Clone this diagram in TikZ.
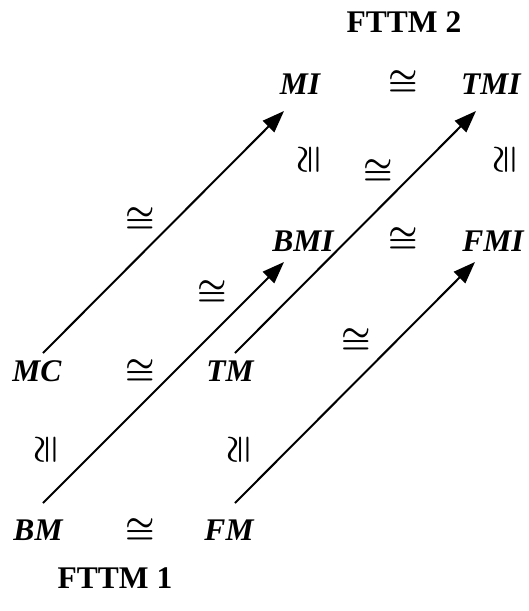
\documentclass[tikz,border=0pt]{standalone}
\usepackage{fontspec}
\setmainfont{Liberation Serif}
\usetikzlibrary{arrows.meta}
\newcommand{\isosym}{\scalebox{3.3}{\boldmath$\cong$}}
\tikzset{
  lbl/.style={inner sep=0pt, font=\fontsize{31.5}{36}\selectfont\bfseries\itshape},
  ttl/.style={inner sep=0pt, font=\fontsize{31.5}{36}\selectfont\bfseries},
  iso/.style={inner sep=0pt},
  visoh/.style={inner sep=0pt, rotate=90},
  arr/.style={line width=2pt, -{Triangle[length=22pt,width=16pt]}}
}
\begin{document}
\begin{tikzpicture}[x=1pt,y=-1pt]
\useasboundingbox (0,0) rectangle (528,611);
% titles
\node[ttl] (t2) at (404,22) {FTTM 2};
\node[ttl] (t1) at (115,578) {FTTM 1};
% labels
\node[lbl] (MI)  at (300,84)  {MI};
\node[lbl] (TMI) at (491,84)  {TMI};
\node[lbl] (BMI) at (303,241) {BMI};
\node[lbl] (FMI) at (493,241) {FMI};
\node[lbl] (MC)  at (37,371)  {MC};
\node[lbl] (TM)  at (230,371) {TM};
\node[lbl] (BM)  at (38,530)  {BM};
\node[lbl] (FM)  at (229,530) {FM};
% horizontal isomorphisms
\node[iso] (i1) at (403,83)  {\isosym};
\node[iso] (i2) at (403,240) {\isosym};
\node[iso] (i3) at (140,372) {\isosym};
\node[iso] (i4) at (140,531) {\isosym};
% vertical isomorphisms
\node[visoh] (v1) at (310,160) {\isosym};
\node[visoh] (v2) at (506,160) {\isosym};
\node[visoh] (v3) at (47,450)  {\isosym};
\node[visoh] (v4) at (240,450) {\isosym};
% diagonal isomorphisms
\node[iso] (d1) at (140,220) {\isosym};
\node[iso] (d2) at (378,172) {\isosym};
\node[iso] (d3) at (212,293) {\isosym};
\node[iso] (d4) at (356,341) {\isosym};
% arrow end points
\coordinate (mcS) at (43,353);
\coordinate (miE) at (284,111);
\coordinate (tmS) at (235,353);
\coordinate (tmiE) at (476,111);
\coordinate (bmS) at (43,503);
\coordinate (bmiE) at (284,262);
\coordinate (fmS) at (235,503);
\coordinate (fmiE) at (475,262);
\draw[arr] (mcS) -- (miE);
\draw[arr] (tmS) -- (tmiE);
\draw[arr] (bmS) -- (bmiE);
\draw[arr] (fmS) -- (fmiE);
\end{tikzpicture}
\end{document}
